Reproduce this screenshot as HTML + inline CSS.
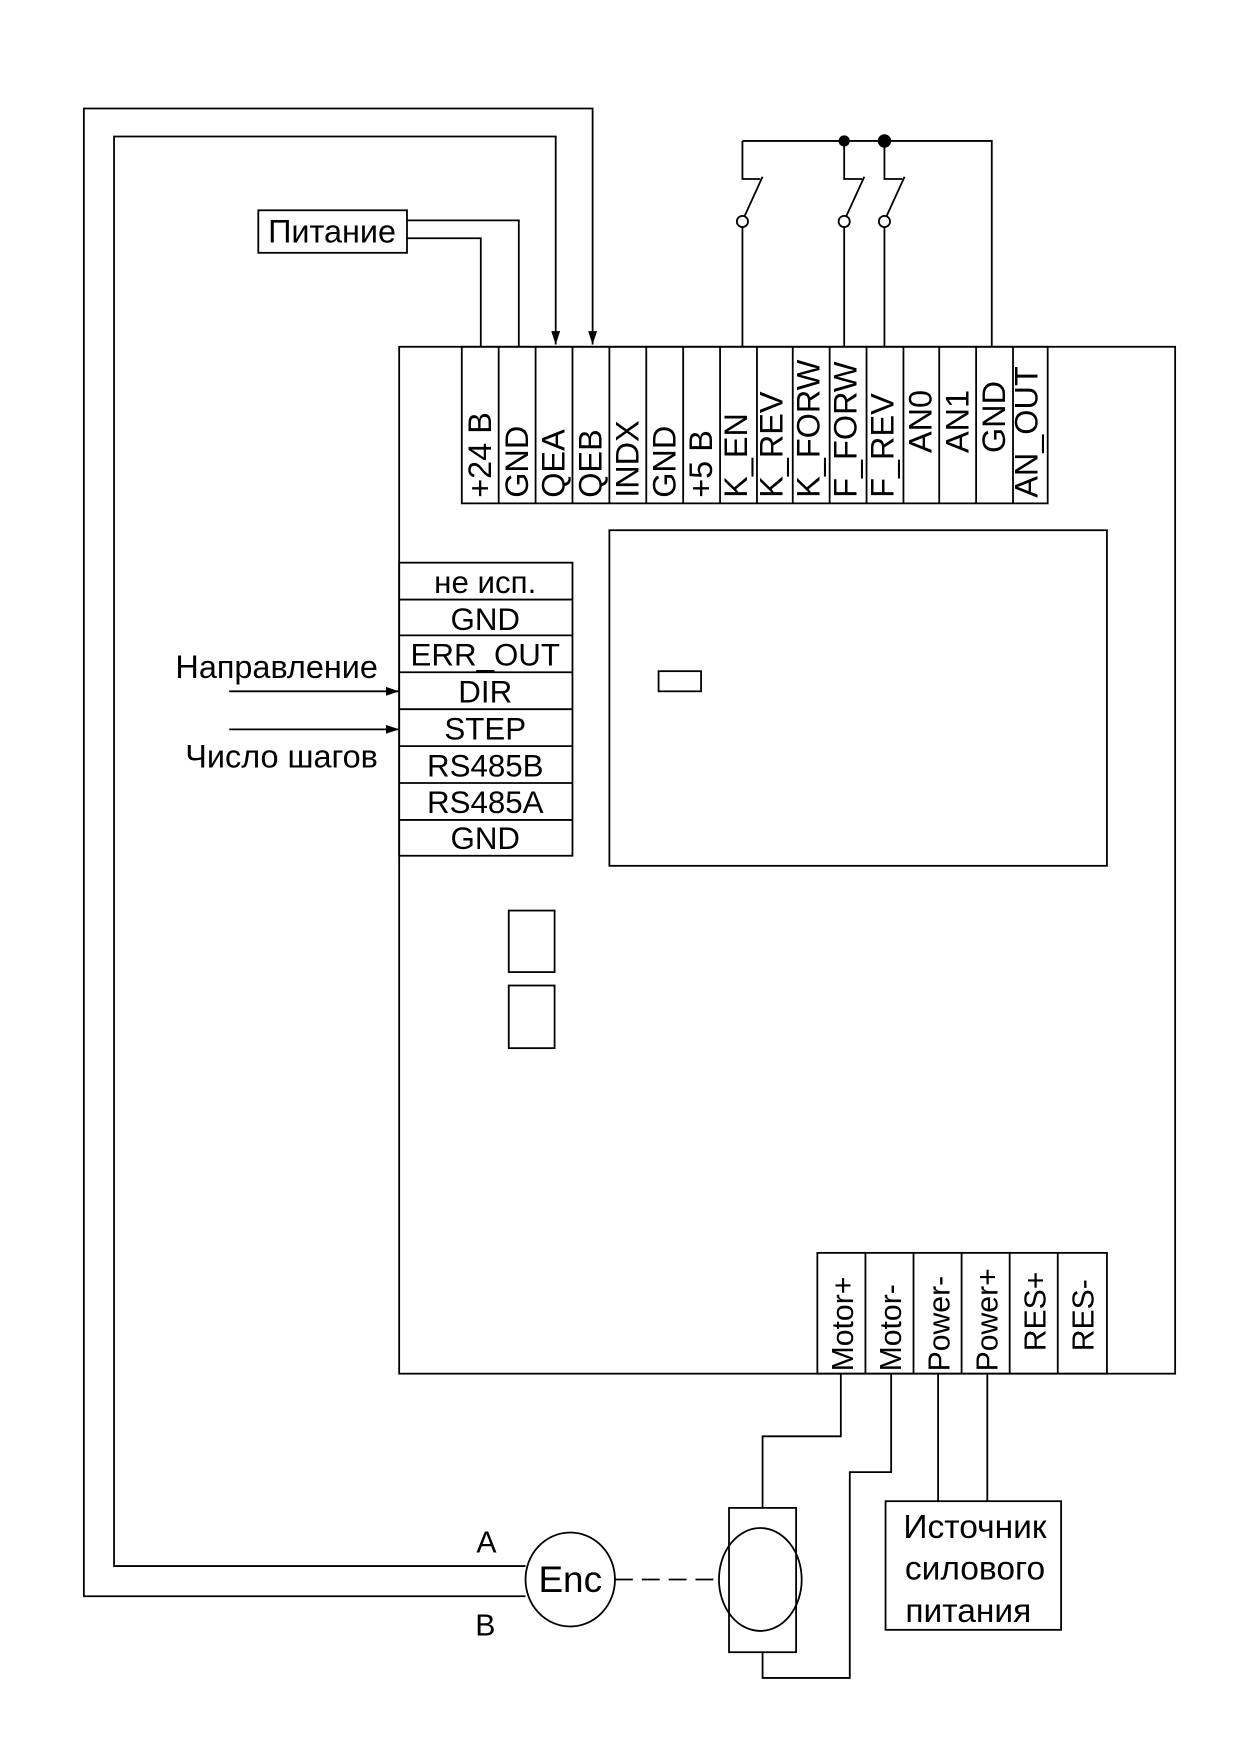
<!DOCTYPE html>
<html><head><meta charset="utf-8"><style>
html,body{margin:0;padding:0;background:#fff}
svg{display:block}
text{font-family:"Liberation Sans","DejaVu Sans",sans-serif;fill:#000}
</style></head><body>
<svg width="1240" height="1754" viewBox="0 0 1109 1568" preserveAspectRatio="none" xmlns="http://www.w3.org/2000/svg">
<defs><marker id="ar" markerWidth="12" markerHeight="8" refX="12" refY="4" orient="auto" markerUnits="userSpaceOnUse"><path d="M0,0 L12,4 L0,8 Z" fill="#000"/></marker></defs>
<g fill="none" stroke="#000" stroke-width="1.6">
<polyline points="470,1427 75,1427 75,97 530,97 530,308" marker-end="url(#ar)"/>
<polyline points="470,1400 102,1400 102,122 497,122 497,308" marker-end="url(#ar)"/>
<rect x="231" y="188" width="133" height="38"/>
<polyline points="364,197 464,197 464,310"/>
<polyline points="364,213 430,213 430,310"/>
<rect x="357" y="310" width="694" height="918"/>
<rect x="413" y="310" width="524" height="140"/>
<g>
<line x1="446" y1="310" x2="446" y2="450"/><line x1="479" y1="310" x2="479" y2="450"/>
<line x1="512" y1="310" x2="512" y2="450"/><line x1="545" y1="310" x2="545" y2="450"/>
<line x1="578" y1="310" x2="578" y2="450"/><line x1="611" y1="310" x2="611" y2="450"/>
<line x1="644" y1="310" x2="644" y2="450"/><line x1="677" y1="310" x2="677" y2="450"/>
<line x1="709" y1="310" x2="709" y2="450"/><line x1="742" y1="310" x2="742" y2="450"/>
<line x1="775" y1="310" x2="775" y2="450"/><line x1="808" y1="310" x2="808" y2="450"/>
<line x1="840" y1="310" x2="840" y2="450"/><line x1="873" y1="310" x2="873" y2="450"/>
<line x1="906" y1="310" x2="906" y2="450"/>
</g>
<polyline points="664,310 664,203"/>
<circle cx="664" cy="198" r="5"/>
<polyline points="666,193 682,158"/>
<polyline points="664,126 664,160 680,160"/>
<polyline points="755,310 755,203"/>
<circle cx="755" cy="198" r="5"/>
<polyline points="757,193 773,158"/>
<polyline points="755,126 755,160 771,160"/>
<polyline points="791,310 791,203"/>
<circle cx="791" cy="198" r="5"/>
<polyline points="793,193 809,158"/>
<polyline points="791,126 791,160 807,160"/>
<polyline points="664,126 887,126 887,310"/>
<rect x="545" y="474" width="445" height="300"/>
<rect x="589" y="600" width="38" height="18"/>
<rect x="357" y="503" width="155" height="262"/>
<line x1="357" y1="536" x2="512" y2="536"/><line x1="357" y1="568" x2="512" y2="568"/>
<line x1="357" y1="601" x2="512" y2="601"/><line x1="357" y1="634" x2="512" y2="634"/>
<line x1="357" y1="667" x2="512" y2="667"/><line x1="357" y1="700" x2="512" y2="700"/>
<line x1="357" y1="733" x2="512" y2="733"/>
<line x1="205" y1="618" x2="357" y2="618" marker-end="url(#ar)"/>
<line x1="205" y1="652" x2="357" y2="652" marker-end="url(#ar)"/>
<rect x="455" y="814" width="41" height="55"/>
<rect x="455" y="881" width="41" height="56"/>
<rect x="731" y="1120" width="259" height="108"/>
<line x1="774" y1="1120" x2="774" y2="1228"/><line x1="817" y1="1120" x2="817" y2="1228"/>
<line x1="860" y1="1120" x2="860" y2="1228"/><line x1="903" y1="1120" x2="903" y2="1228"/>
<line x1="946" y1="1120" x2="946" y2="1228"/>
<polyline points="752,1228 752,1284 682,1284 682,1348"/>
<polyline points="797,1228 797,1316 760,1316 760,1500 682,1500 682,1477"/>
<rect x="652" y="1348" width="60" height="129"/>
<ellipse cx="680" cy="1412" rx="37" ry="46"/>
<line x1="839" y1="1228" x2="839" y2="1342"/>
<line x1="883" y1="1228" x2="883" y2="1342"/>
<rect x="792" y="1342" width="157" height="115"/>
<ellipse cx="510" cy="1412" rx="40" ry="42"/>
<line x1="550" y1="1412" x2="643" y2="1412" stroke-dasharray="16,8"/>
</g>
<circle cx="755" cy="126" r="5" fill="#000"/>
<circle cx="791" cy="126" r="6" fill="#000"/>
<text x="297" y="217" font-size="29" text-anchor="middle">Питание</text>
<g font-size="29">
<text transform="translate(439,445) rotate(-90)">+24 B</text>
<text transform="translate(472,445) rotate(-90)">GND</text>
<text transform="translate(505,445) rotate(-90)">QEA</text>
<text transform="translate(538,445) rotate(-90)">QEB</text>
<text transform="translate(571,445) rotate(-90)">INDX</text>
<text transform="translate(604,445) rotate(-90)">GND</text>
<text transform="translate(637,445) rotate(-90)">+5 B</text>
<text transform="translate(668,445) rotate(-90)">K_EN</text>
<text transform="translate(700,445) rotate(-90)">K_REV</text>
<text transform="translate(733,445) rotate(-90)">K_FORW</text>
<text transform="translate(766,445) rotate(-90)">F_FORW</text>
<text transform="translate(799,445) rotate(-90)">F_REV</text>
<text transform="translate(833,405) rotate(-90)">AN0</text>
<text transform="translate(866,405) rotate(-90)">AN1</text>
<text transform="translate(899,405) rotate(-90)">GND</text>
<text transform="translate(928,445) rotate(-90)">AN_OUT</text>
</g>
<g font-size="28" text-anchor="middle">
<text x="434" y="530">не исп.</text>
<text x="434" y="563">GND</text>
<text x="434" y="595">ERR_OUT</text>
<text x="434" y="628">DIR</text>
<text x="434" y="661">STEP</text>
<text x="434" y="694">RS485B</text>
<text x="434" y="727">RS485A</text>
<text x="434" y="759">GND</text>
</g>
<text x="338" y="606" font-size="29" text-anchor="end">Направление</text>
<text x="338" y="686" font-size="29" text-anchor="end">Число шагов</text>
<g font-size="27">
<text transform="translate(763,1226) rotate(-90)">Motor+</text>
<text transform="translate(806,1226) rotate(-90)">Motor-</text>
<text transform="translate(849,1226) rotate(-90)">Power-</text>
<text transform="translate(892,1226) rotate(-90)">Power+</text>
<text transform="translate(935,1208) rotate(-90)">RES+</text>
<text transform="translate(978,1208) rotate(-90)">RES-</text>
</g>
<g font-size="30" text-anchor="middle">
<text x="872" y="1375">Источник</text>
<text x="872" y="1412">силового</text>
<text x="866" y="1450">питания</text>
</g>
<text x="510" y="1423" font-size="33" text-anchor="middle">Enc</text>
<text x="435" y="1388" font-size="27" text-anchor="middle">A</text>
<text x="434" y="1462" font-size="27" text-anchor="middle">B</text>
</svg>
</body></html>
